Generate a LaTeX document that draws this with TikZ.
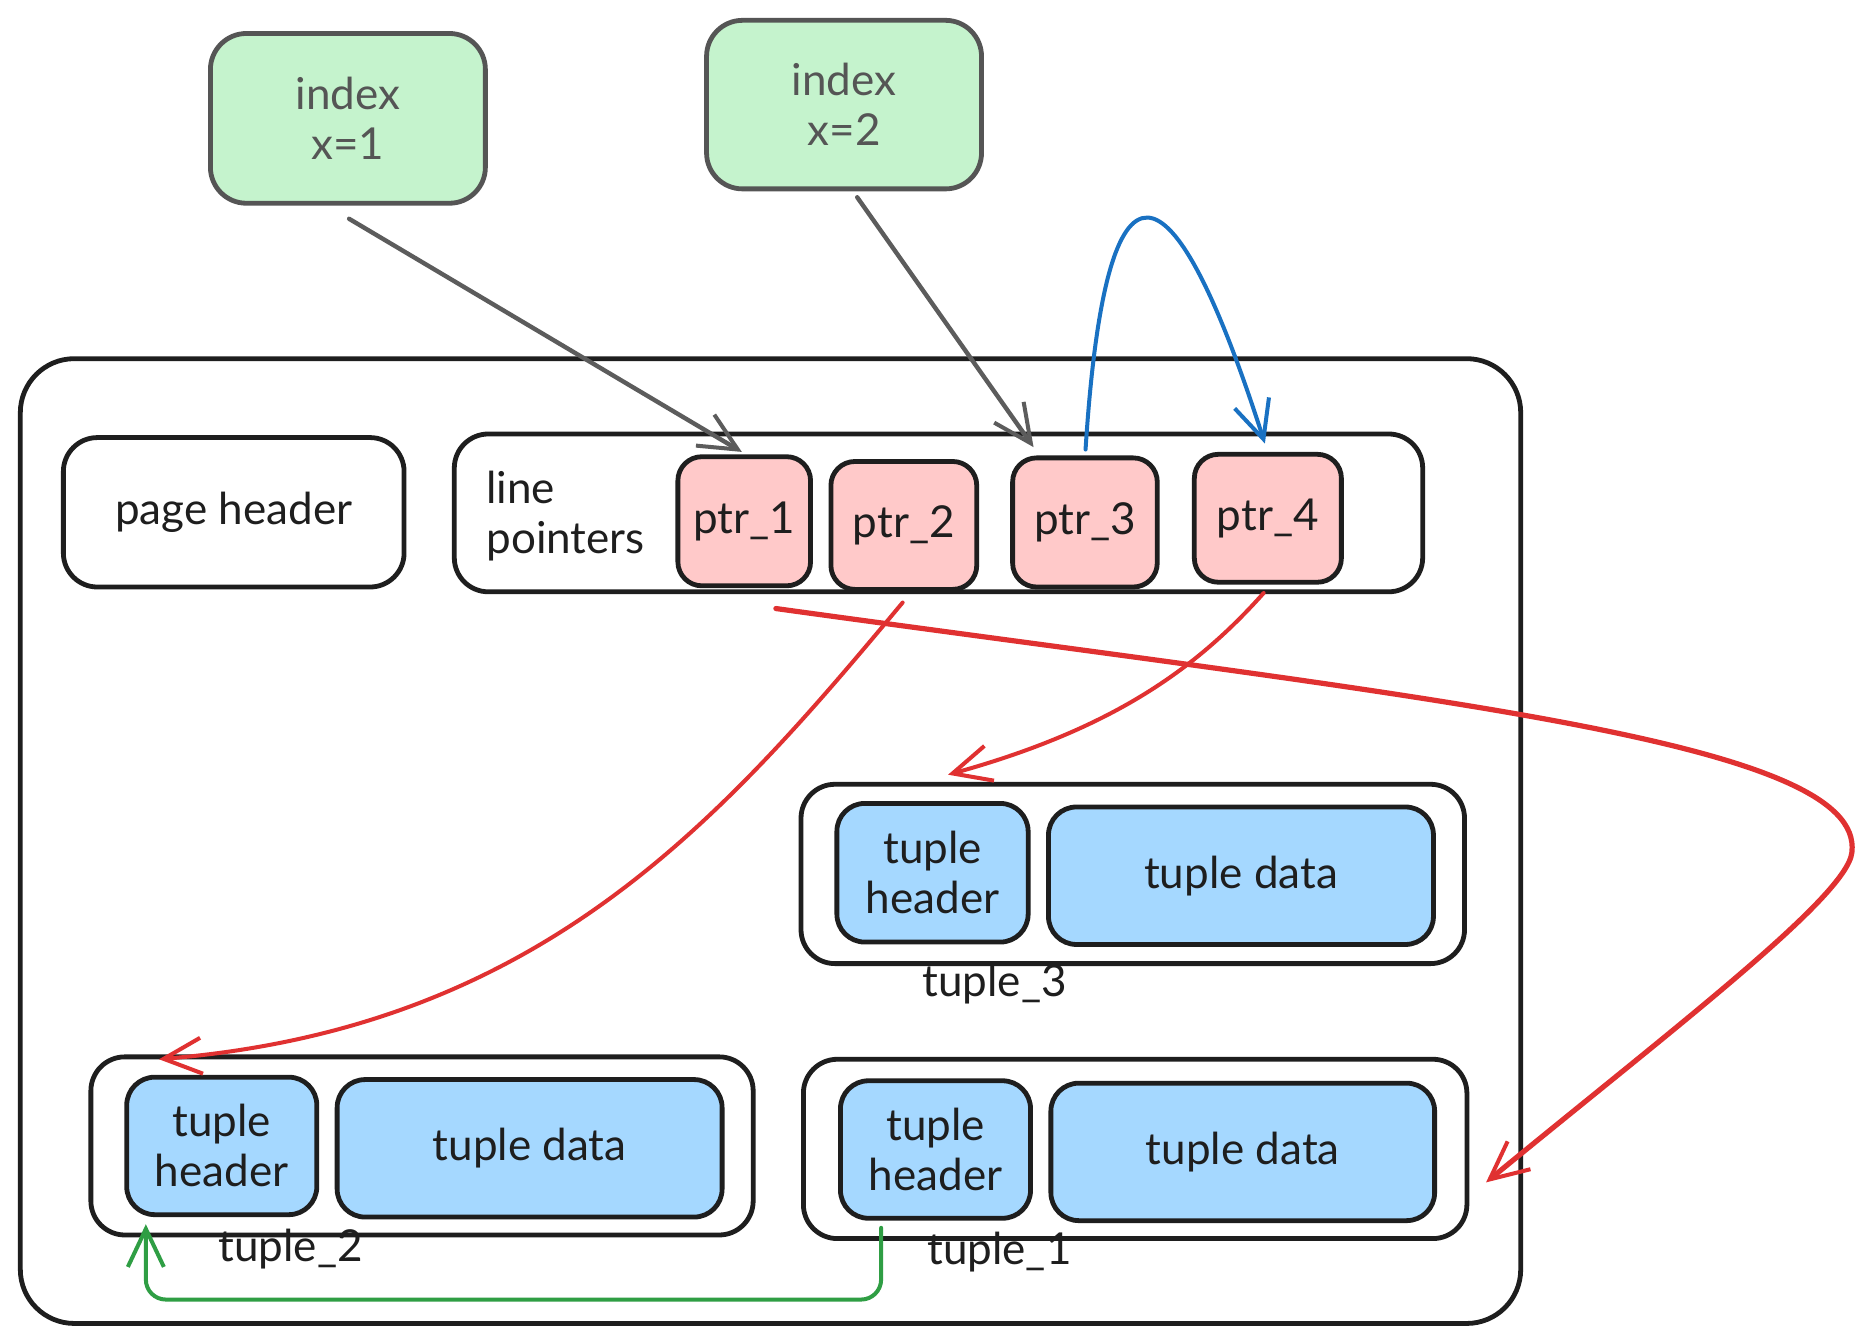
\documentclass[tikz,border=0pt]{standalone}
\usepackage{fontspec}
\setmainfont{Lato}
\usetikzlibrary{arrows.meta,calc,fit}
\definecolor{ink}{HTML}{1E1E1E}
\definecolor{idxgreen}{HTML}{C5F3CD}
\definecolor{idxgray}{HTML}{555555}
\definecolor{ptrpink}{HTML}{FFC9C9}
\definecolor{tupblue}{HTML}{A5D8FF}
\definecolor{redarr}{HTML}{E03131}
\definecolor{bluearr}{HTML}{1971C2}
\definecolor{greenarr}{HTML}{2F9E44}
\definecolor{grayarr}{HTML}{5C5C5C}
\tikzset{
  txt/.style={font=\fontsize{22}{25}\selectfont, text=ink},
  box/.style={draw=ink, line width=2.4pt, rounded corners=15pt, inner sep=0pt},
  lbl/.style={label={[txt, align=center]center:#1}},
  idxbox/.style={box, draw=idxgray, fill=idxgreen, rounded corners=18pt},
  idxlbl/.style={label={[txt, text=idxgray, align=center]center:#1}},
  ptrbox/.style={box, fill=ptrpink, rounded corners=12pt},
  tupbox/.style={box, fill=tupblue, rounded corners=14pt},
  contbox/.style={box, rounded corners=17pt},
  arr/.style={line width=2pt, line cap=round,
    -{Straight Barb[length=19pt,width=18pt,line width=2pt]}},
}
\begin{document}
\begin{tikzpicture}[x=0.5977pt,y=-0.5977pt]
\useasboundingbox[fill=white] (0,0) rectangle (1565,1121.7);

% outer page
\node[box, rounded corners=27pt, fit={(17,300)(1272,1107)}] (page) {};

% index boxes
\node[idxbox, idxlbl={index\\x=1}, fit={(176,28)(406,170)}] (idx1) {};
\node[idxbox, idxlbl={index\\x=2}, fit={(591,17)(821,158)}] (idx2) {};

% page header and line pointers
\node[contbox, lbl={page header}, fit={(53,366)(338,491)}] (ph) {};
\node[contbox, fit={(380,363)(1190,495)}] (lp) {};
\node[txt, anchor=west, align=left] (lptxt) at (401,432) {line\\pointers};
\node[ptrbox, lbl={ptr\_1}, fit={(567,382)(678,490)}] (p1) {};
\node[ptrbox, lbl={ptr\_2}, fit={(695,386)(817,493)}] (p2) {};
\node[ptrbox, lbl={ptr\_3}, fit={(847,383)(968,491)}] (p3) {};
\node[ptrbox, lbl={ptr\_4}, fit={(999,380)(1122,487)}] (p4) {};

% tuple_3
\node[contbox, fit={(670,656)(1225,806)}] (t3) {};
\node[tupbox, lbl={tuple\\header}, fit={(700,672)(860,788)}] (t3h) {};
\node[tupbox, lbl={tuple data}, fit={(877,675)(1199,790)}] (t3d) {};
\node[txt] (t3l) at (832,823) {tuple\_3};

% tuple_2
\node[contbox, fit={(76,884)(630,1033)}] (t2) {};
\node[tupbox, lbl={tuple\\header}, fit={(106,901)(265,1016)}] (t2h) {};
\node[tupbox, lbl={tuple data}, fit={(282,903)(604,1018)}] (t2d) {};
\node[txt] (t2l) at (243,1045) {tuple\_2};

% tuple_1
\node[contbox, fit={(672,886)(1227,1036)}] (t1) {};
\node[tupbox, lbl={tuple\\header}, fit={(703,904)(862,1019)}] (t1h) {};
\node[tupbox, lbl={tuple data}, fit={(879,906)(1200,1021)}] (t1d) {};
\node[txt] (t1l) at (836,1047) {tuple\_1};

% connector end points
\coordinate (a1s) at ($(idx1.south)+(1,11)$);
\coordinate (a1e) at ($(p1.north)+(-2,-2)$);
\coordinate (a2s) at ($(idx2.south)+(11,5)$);
\coordinate (a2e) at ($(p3.north)+(-43,-7)$);
\coordinate (bs) at ($(p3.north)+(0.5,-5)$);
\coordinate (be) at ($(p4.north)+(-2.5,-7)$);
\coordinate (r2s) at ($(p2.south)+(-1,9)$);
\coordinate (r2e) at ($(t2.north west)+(59,4)$);
\coordinate (r4s) at ($(p4.south)+(-3.5,7)$);
\coordinate (r4e) at ($(t3.north)+(-154.5,-6)$);
\coordinate (r1s) at ($(p1.south)+(26.5,17)$);
\coordinate (r1m) at (1549,713);
\coordinate (r1e) at ($(t1.east)+(14,28)$);
\coordinate (gs) at ($(t1h.south)+(-45.5,6)$);
\coordinate (ge) at ($(t2h.south)+(-63.5,6)$);

% gray arrows
\draw[arr, grayarr, line width=2.2pt] (a1s) -- (a1e);
\draw[arr, grayarr, line width=2.2pt] (a2s) -- (a2e);

% blue arrow
\draw[arr, bluearr] (bs) .. controls (925,110) and (980,128) .. (be);

% red arrows
\draw[arr, redarr] (r2s) .. controls (600,690) and (450,860) .. (r2e);
\draw[arr, redarr] (r4s) .. controls (1000,560) and (930,610) .. (r4e);
\draw[arr, redarr, line width=2.6pt] (r1s) .. controls (1200,585) and (1560,620) .. (r1m)
  .. controls (1545,750) and (1400,860) .. (r1e);

% green arrow
\draw[arr, greenarr, rounded corners=10pt] (gs) -- ++(0,60) -| (ge);
\end{tikzpicture}
\end{document}
